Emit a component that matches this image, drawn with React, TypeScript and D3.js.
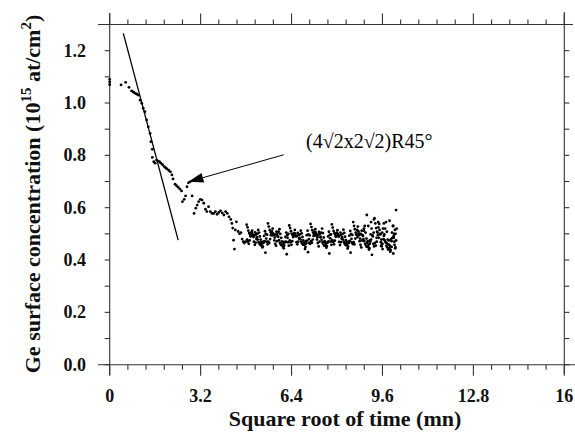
import React from 'react';
import * as d3 from 'd3';

const xMajorTicks = [0, 3.2, 6.4, 9.6, 12.8, 16];
const xTickLabels = ['0', '3.2', '6.4', '9.6', '12.8', '16'];
const yMajorTicks = [0, 0.2, 0.4, 0.6, 0.8, 1.0, 1.2];
const yTickLabels = ['0.0', '0.2', '0.4', '0.6', '0.8', '1.0', '1.2'];

const fitLine: [number, number][] = [[0.48, 1.266], [2.41, 0.476]];

const onsetPoints: [number, number][] = [
  [0.0, 1.09], [0.0, 1.08], [0.0, 1.07],
  [0.40, 1.069], [0.56, 1.079], [0.68, 1.06], [0.77, 1.046], [0.83, 1.042], [0.87, 1.039], [0.92, 1.036],
  [0.95, 1.034], [1.01, 1.03], [1.07, 1.011], [1.13, 0.999], [1.18, 0.98], [1.24, 0.967], [1.30, 0.935],
  [1.36, 0.909], [1.42, 0.884], [1.45, 0.852], [1.50, 0.823],
  [1.50, 0.792], [1.55, 0.776], [1.60, 0.770], [1.65, 0.782], [1.70, 0.778], [1.75, 0.776], [1.80, 0.770],
  [1.86, 0.764], [1.92, 0.757], [1.97, 0.752], [2.02, 0.748], [2.08, 0.742], [2.14, 0.737], [2.19, 0.725],
  [2.23, 0.710], [2.30, 0.690], [2.35, 0.684], [2.41, 0.678], [2.47, 0.671], [2.53, 0.664],
  [2.56, 0.623], [2.62, 0.632], [2.67, 0.645], [2.72, 0.68], [2.77, 0.695], [2.83, 0.699], [2.90, 0.645],
  [2.97, 0.578], [3.03, 0.598], [3.08, 0.610], [3.13, 0.623], [3.19, 0.632], [3.25, 0.629], [3.31, 0.617],
  [3.37, 0.594], [3.42, 0.585], [3.48, 0.604], [3.54, 0.585], [3.60, 0.578],
  [3.66, 0.578], [3.72, 0.585], [3.78, 0.575], [3.84, 0.582], [3.90, 0.588], [3.96, 0.580], [4.02, 0.572],
  [4.08, 0.585], [4.14, 0.578], [4.20, 0.565], [4.26, 0.555], [4.30, 0.540], [4.33, 0.522], [4.36, 0.476],
  [4.39, 0.442], [4.42, 0.515], [4.46, 0.546], [4.52, 0.509], [4.57, 0.500], [4.62, 0.505], [4.66, 0.480],
  [4.70, 0.470], [4.74, 0.465], [4.78, 0.470],
];

const plateauPoints: [number, number][] = [
  [4.82, 0.535], [4.85, 0.525], [4.88, 0.512], [4.91, 0.503], [4.94, 0.498], [4.97, 0.492], [5.00, 0.505], [5.03, 0.498], [5.06, 0.488], [5.09, 0.494], [5.12, 0.506], [5.15, 0.498], [5.18, 0.487], [5.21, 0.478], [5.24, 0.468], [5.27, 0.462], [5.30, 0.458], [5.33, 0.468], [5.36, 0.463], [5.39, 0.452], [5.42, 0.466], [5.45, 0.472], [5.48, 0.428], [5.51, 0.482], [5.54, 0.497],
  [5.57, 0.540], [5.60, 0.528], [5.63, 0.515], [5.66, 0.507], [5.69, 0.500], [5.72, 0.494], [5.75, 0.502], [5.78, 0.496], [5.81, 0.486], [5.84, 0.497], [5.87, 0.508], [5.90, 0.500], [5.93, 0.489], [5.96, 0.476], [5.99, 0.466], [6.02, 0.460], [6.05, 0.456], [6.08, 0.470], [6.11, 0.461], [6.14, 0.455], [6.17, 0.468], [6.20, 0.470], [6.23, 0.422], [6.26, 0.485], [6.29, 0.500],
  [6.32, 0.532], [6.35, 0.522], [6.38, 0.510], [6.41, 0.500], [6.44, 0.496], [6.47, 0.490], [6.50, 0.503], [6.53, 0.500], [6.56, 0.490], [6.59, 0.492], [6.62, 0.504], [6.65, 0.496], [6.68, 0.485], [6.71, 0.479], [6.74, 0.470], [6.77, 0.463], [6.80, 0.459], [6.83, 0.466], [6.86, 0.460], [6.89, 0.450], [6.92, 0.464], [6.95, 0.474], [6.98, 0.430], [7.01, 0.480], [7.04, 0.494],
  [7.07, 0.538], [7.10, 0.526], [7.13, 0.514], [7.16, 0.505], [7.19, 0.499], [7.22, 0.493], [7.25, 0.506], [7.28, 0.497], [7.31, 0.487], [7.34, 0.496], [7.37, 0.507], [7.40, 0.499], [7.43, 0.488], [7.46, 0.477], [7.49, 0.467], [7.52, 0.461], [7.55, 0.455], [7.58, 0.469], [7.61, 0.462], [7.64, 0.453], [7.67, 0.467], [7.70, 0.471], [7.73, 0.425], [7.76, 0.483], [7.79, 0.498],
  [7.82, 0.536], [7.85, 0.524], [7.88, 0.511], [7.91, 0.502], [7.94, 0.497], [7.97, 0.491], [8.00, 0.504], [8.03, 0.499], [8.06, 0.489], [8.09, 0.493], [8.12, 0.505], [8.15, 0.497], [8.18, 0.486], [8.21, 0.478], [8.24, 0.469], [8.27, 0.462], [8.30, 0.457], [8.33, 0.467], [8.36, 0.461], [8.39, 0.451], [8.42, 0.465], [8.45, 0.473], [8.48, 0.428], [8.51, 0.481], [8.54, 0.496],
  [8.57, 0.545], [8.60, 0.530], [8.63, 0.518], [8.66, 0.505], [8.69, 0.497], [8.72, 0.488], [8.75, 0.510], [8.78, 0.495], [8.81, 0.482], [8.84, 0.500], [8.87, 0.512], [8.90, 0.495], [8.93, 0.480], [8.96, 0.472], [8.99, 0.462], [9.02, 0.455], [9.05, 0.450], [9.08, 0.472], [9.11, 0.458], [9.14, 0.445], [9.17, 0.470], [9.20, 0.478], [9.23, 0.420], [9.26, 0.490], [9.29, 0.505],
  [9.32, 0.560], [9.35, 0.540], [9.38, 0.522], [9.41, 0.508], [9.44, 0.495], [9.47, 0.485], [9.50, 0.515], [9.53, 0.498], [9.56, 0.478], [9.59, 0.505], [9.62, 0.520], [9.65, 0.492], [9.68, 0.475], [9.71, 0.468], [9.74, 0.455], [9.77, 0.448], [9.80, 0.440], [9.83, 0.475], [9.86, 0.455], [9.89, 0.438], [9.92, 0.472], [9.95, 0.485], [9.98, 0.425], [10.01, 0.500], [10.04, 0.515],
  [9.05, 0.572], [9.10, 0.530], [9.20, 0.545], [9.30, 0.555], [9.45, 0.545], [9.55, 0.455], [9.65, 0.540], [9.75, 0.465], [9.85, 0.550], [9.92, 0.450], [9.98, 0.530], [10.02, 0.470], [10.06, 0.500], [10.08, 0.591], [10.10, 0.520], [10.05, 0.445], [8.95, 0.520], [9.15, 0.462], [9.40, 0.470], [9.60, 0.462], [10.00, 0.485], [10.08, 0.475],
];

const plateauPoints2: [number, number][] = [
  [4.835, 0.478], [4.865, 0.470], [4.895, 0.462], [4.925, 0.475], [4.955, 0.490], [4.985, 0.505], [5.015, 0.512], [5.045, 0.496], [5.075, 0.470], [5.105, 0.458], [5.135, 0.466], [5.165, 0.480], [5.195, 0.500], [5.225, 0.515], [5.255, 0.505], [5.285, 0.490], [5.315, 0.478], [5.345, 0.455], [5.375, 0.448], [5.405, 0.470], [5.435, 0.492], [5.465, 0.510], [5.495, 0.500], [5.525, 0.470], [5.555, 0.460],
  [5.585, 0.470], [5.615, 0.465], [5.645, 0.480], [5.675, 0.495], [5.705, 0.510], [5.735, 0.520], [5.765, 0.498], [5.795, 0.475], [5.825, 0.462], [5.855, 0.455], [5.885, 0.472], [5.915, 0.490], [5.945, 0.508], [5.975, 0.518], [6.005, 0.500], [6.035, 0.485], [6.065, 0.470], [6.095, 0.452], [6.125, 0.445], [6.155, 0.468], [6.185, 0.488], [6.215, 0.505], [6.245, 0.495], [6.275, 0.468], [6.305, 0.455],
  [6.335, 0.475], [6.365, 0.468], [6.395, 0.458], [6.425, 0.472], [6.455, 0.488], [6.485, 0.502], [6.515, 0.515], [6.545, 0.494], [6.575, 0.468], [6.605, 0.460], [6.635, 0.470], [6.665, 0.482], [6.695, 0.498], [6.725, 0.512], [6.755, 0.502], [6.785, 0.488], [6.815, 0.475], [6.845, 0.458], [6.875, 0.442], [6.905, 0.472], [6.935, 0.495], [6.965, 0.512], [6.995, 0.498], [7.025, 0.465], [7.055, 0.462],
  [7.085, 0.472], [7.115, 0.466], [7.145, 0.478], [7.175, 0.492], [7.205, 0.508], [7.235, 0.518], [7.265, 0.500], [7.295, 0.478], [7.325, 0.465], [7.355, 0.452], [7.385, 0.470], [7.415, 0.487], [7.445, 0.505], [7.475, 0.520], [7.505, 0.503], [7.535, 0.486], [7.565, 0.472], [7.595, 0.455], [7.625, 0.447], [7.655, 0.466], [7.685, 0.490], [7.715, 0.508], [7.745, 0.496], [7.775, 0.470], [7.805, 0.458],
  [7.835, 0.476], [7.865, 0.469], [7.895, 0.460], [7.925, 0.474], [7.955, 0.489], [7.985, 0.504], [8.015, 0.514], [8.045, 0.495], [8.075, 0.469], [8.105, 0.457], [8.135, 0.468], [8.165, 0.481], [8.195, 0.499], [8.225, 0.516], [8.255, 0.504], [8.285, 0.489], [8.315, 0.476], [8.345, 0.456], [8.375, 0.444], [8.405, 0.470], [8.435, 0.493], [8.465, 0.511], [8.495, 0.499], [8.525, 0.467], [8.555, 0.461],
  [8.585, 0.468], [8.615, 0.460], [8.645, 0.482], [8.675, 0.498], [8.705, 0.515], [8.735, 0.528], [8.765, 0.502], [8.795, 0.472], [8.825, 0.458], [8.855, 0.448], [8.885, 0.475], [8.915, 0.492], [8.945, 0.512], [8.975, 0.530], [9.005, 0.505], [9.035, 0.482], [9.065, 0.466], [9.095, 0.450], [9.125, 0.440], [9.155, 0.475], [9.185, 0.498], [9.215, 0.520], [9.245, 0.495], [9.275, 0.462], [9.305, 0.452],
  [9.335, 0.465], [9.365, 0.455], [9.395, 0.485], [9.425, 0.505], [9.455, 0.525], [9.485, 0.538], [9.515, 0.500], [9.545, 0.468], [9.575, 0.452], [9.605, 0.442], [9.635, 0.480], [9.665, 0.498], [9.695, 0.520], [9.725, 0.545], [9.755, 0.508], [9.785, 0.478], [9.815, 0.460], [9.845, 0.445], [9.875, 0.432], [9.905, 0.480], [9.935, 0.505], [9.965, 0.530], [9.995, 0.492], [10.025, 0.458], [10.055, 0.448],
];

const annotationText = '(4\u221A2x2\u221A2)R45\u00B0';
const annotationArrow: [number, number][] = [[6.12, 0.802], [2.77, 0.699]];

const W = 575;
const H = 432;
const serif = '"Liberation Serif", "Times New Roman", serif';

export default function App() {
  const x = d3.scaleLinear().domain([0, 16]).range([109.7, 564.3]);
  const y = d3.scaleLinear().domain([0, 1.3]).range([364.7, 24.5]);
  const x0 = x(0), x1 = x(16), y0 = y(0), y1 = y(1.3);
  const xMinor = d3.range(0, 16.0001, 0.64);
  const yMinor = d3.range(0, 1.3001, 0.1);
  const axisColor = '#333';
  const allPoints = [...onsetPoints, ...plateauPoints, ...plateauPoints2];
  const line = d3.line<[number, number]>().x(d => x(d[0])).y(d => y(d[1]));
  const [a0, a1] = annotationArrow;
  const ax0 = x(a0[0]), ay0 = y(a0[1]), ax1 = x(a1[0]), ay1 = y(a1[1]);
  const ang = Math.atan2(ay1 - ay0, ax1 - ax0);
  const headLen = 15, headW = 5;
  const bx = ax1 - headLen * Math.cos(ang), by = ay1 - headLen * Math.sin(ang);
  const head = `M${ax1},${ay1} L${bx + headW * Math.sin(ang)},${by - headW * Math.cos(ang)} L${bx - headW * Math.sin(ang)},${by + headW * Math.cos(ang)} Z`;

  return (
    <svg width={W} height={H} style={{ position: 'absolute', left: 0, top: 0, background: '#fff' }}>
      <rect width={W} height={H} fill="#fff" />
      <g stroke={axisColor} strokeWidth={1.1} fill="none">
        <line x1={98} x2={573} y1={y1} y2={y1} />
        <line x1={98} x2={575} y1={y0} y2={y0} />
        <line x1={x0} x2={x0} y1={13} y2={375} />
        <line x1={x1} x2={x1} y1={12} y2={374} />
        {xMinor.map((t, i) => {
          const major = i % 5 === 0;
          const len = major ? 11 : 5;
          return (
            <g key={'xt' + i}>
              <line x1={x(t)} x2={x(t)} y1={y0} y2={y0 + len} />
              <line x1={x(t)} x2={x(t)} y1={y1} y2={y1 - len} />
            </g>
          );
        })}
        {yMinor.map((t, i) => (
          <g key={'yt' + i}>
            <line x1={x0} x2={x0 - 5} y1={y(t)} y2={y(t)} />
            <line x1={x1} x2={x1 + 5} y1={y(t)} y2={y(t)} />
          </g>
        ))}
      </g>
      <g fontFamily={serif} fontWeight="bold" fontSize={18} fill="#111">
        {xMajorTicks.map((t, i) => (
          <text key={'xl' + i} x={x(t)} y={402} textAnchor="middle">{xTickLabels[i]}</text>
        ))}
        {yMajorTicks.map((t, i) => (
          <text key={'yl' + i} x={86} y={y(t) + 6} textAnchor="end">{yTickLabels[i]}</text>
        ))}
      </g>
      <text x={345} y={426} textAnchor="middle" fontFamily={serif} fontWeight="bold" fontSize={22} fill="#111">
        Square root of time (mn)
      </text>
      <text transform="translate(40,194) rotate(-90)" textAnchor="middle" fontFamily={serif} fontWeight="bold" fontSize={22} fill="#111">
        Ge surface concentration (10<tspan fontSize={15} dy={-9}>15</tspan><tspan dy={9}> at/cm</tspan><tspan fontSize={15} dy={-9}>2</tspan><tspan dy={9}>)</tspan>
      </text>
      <path d={line(fitLine) || ''} stroke="#000" strokeWidth={1.3} fill="none" />
      <g fill="#000">
        {allPoints.map((p, i) => (
          <circle key={'p' + i} cx={x(p[0])} cy={y(p[1])} r={1.4} />
        ))}
      </g>
      <line x1={ax0} y1={ay0} x2={bx} y2={by} stroke="#000" strokeWidth={1} />
      <path d={head} fill="#000" />
      <text x={306} y={148} fontFamily={serif} fontSize={20} fill="#000">{annotationText}</text>
    </svg>
  );
}
